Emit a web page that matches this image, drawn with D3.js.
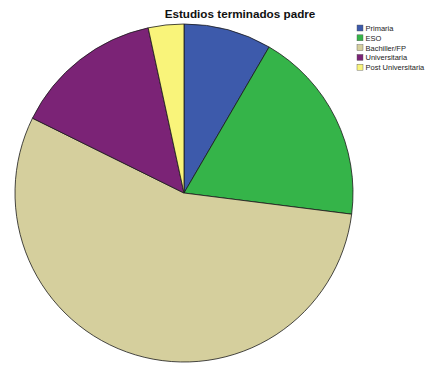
<!DOCTYPE html>
<html>
<head>
<meta charset="utf-8">
<script src="https://cdn.jsdelivr.net/npm/d3@7"></script>
<style>
  html, body { margin: 0; padding: 0; background: #fff; }
  svg { display: block; }
</style>
</head>
<body>
<svg id="chart" width="433" height="367"></svg>
<script>
// Father's completed education level (percent of respondents)
const categories = ["Primaria", "ESO", "Bachiller/FP", "Universitaria", "Post Universitaria"];
const values = [8.4, 18.6, 55.3, 14.3, 3.4];
const colors = ["#3d5aab", "#35b449", "#d5cf9d", "#7b2376", "#f9f47a"];
const title = "Estudios terminados padre";

const svg = d3.select("#chart");
const cx = 184, cy = 193, r = 169;

const color = d3.scaleOrdinal().domain(categories).range(colors);
const pie = d3.pie().sort(null).value(d => d.value);
const arc = d3.arc().innerRadius(0).outerRadius(r);

const data = categories.map((c, i) => ({ name: c, value: values[i] }));

svg.append("g")
  .attr("transform", `translate(${cx},${cy})`)
  .selectAll("path")
  .data(pie(data))
  .join("path")
  .attr("d", arc)
  .attr("fill", d => color(d.data.name))
  .attr("stroke", "#1a1a1a")
  .attr("stroke-width", 0.8)
  .attr("stroke-linejoin", "round");

svg.append("text")
  .attr("x", 240)
  .attr("y", 17.5)
  .attr("text-anchor", "middle")
  .attr("font-family", "Liberation Sans, Arial, sans-serif")
  .attr("font-weight", "bold")
  .attr("font-size", 11.7)
  .attr("fill", "#111")
  .text(title);

const legend = svg.append("g").attr("transform", "translate(357,25)");
const rows = legend.selectAll("g")
  .data(categories)
  .join("g")
  .attr("transform", (d, i) => `translate(0,${i * 9.8})`);

rows.append("rect")
  .attr("width", 6)
  .attr("height", 6)
  .attr("fill", d => color(d))
  .attr("stroke", "#555")
  .attr("stroke-width", 0.4);

rows.append("text")
  .attr("x", 8.5)
  .attr("y", 6)
  .attr("font-family", "Liberation Sans, Arial, sans-serif")
  .attr("font-size", 7.5)
  .attr("fill", "#222")
  .text(d => d);
</script>
</body>
</html>
